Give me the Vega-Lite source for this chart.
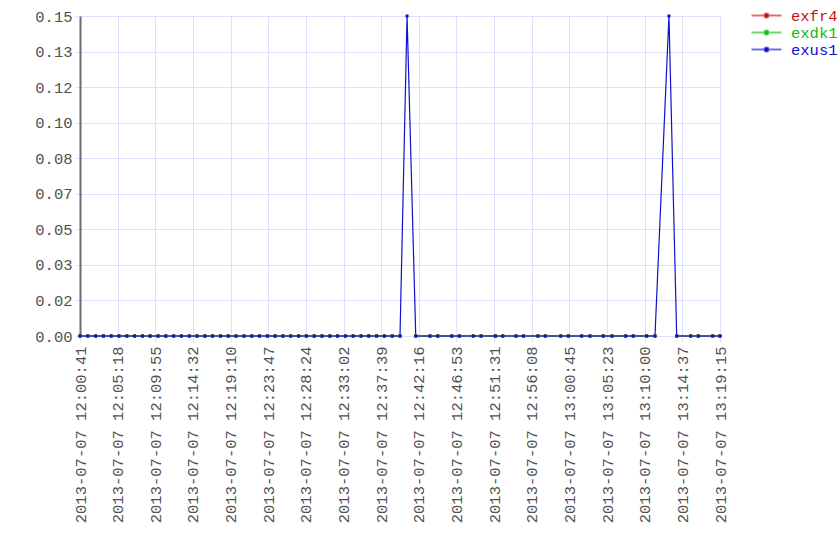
{
  "$schema": "https://vega.github.io/schema/vega-lite/v6.json",
  "width": 640,
  "height": 320,
  "autosize": "none",
  "padding": {"left": 80, "top": 16, "right": 120, "bottom": 224},
  "background": "white",
  "config": {
    "view": {"stroke": null},
    "font": "Liberation Mono",
    "axis": {"labelFont": "Liberation Mono", "labelFontSize": 15.5, "labelColor": "#505050", "gridColor": "#dedeff", "gridOpacity": 1, "tickColor": "#dedeff", "tickSize": 5, "title": null}
  },
  "data": {"values": [
    {"t":"2013-07-07T12:00:41","exfr4":0,"exdk1":0,"exus1":0},
    {"t":"2013-07-07T12:01:38","exfr4":0,"exdk1":0,"exus1":0},
    {"t":"2013-07-07T12:02:36","exfr4":0,"exdk1":0,"exus1":0},
    {"t":"2013-07-07T12:03:33","exfr4":0,"exdk1":0,"exus1":0},
    {"t":"2013-07-07T12:04:31","exfr4":0,"exdk1":0,"exus1":0},
    {"t":"2013-07-07T12:05:28","exfr4":0,"exdk1":0,"exus1":0},
    {"t":"2013-07-07T12:06:26","exfr4":0,"exdk1":0,"exus1":0},
    {"t":"2013-07-07T12:07:23","exfr4":0,"exdk1":0,"exus1":0},
    {"t":"2013-07-07T12:08:21","exfr4":0,"exdk1":0,"exus1":0},
    {"t":"2013-07-07T12:09:18","exfr4":0,"exdk1":0,"exus1":0},
    {"t":"2013-07-07T12:10:16","exfr4":0,"exdk1":0,"exus1":0},
    {"t":"2013-07-07T12:11:13","exfr4":0,"exdk1":0,"exus1":0},
    {"t":"2013-07-07T12:12:11","exfr4":0,"exdk1":0,"exus1":0},
    {"t":"2013-07-07T12:13:08","exfr4":0,"exdk1":0,"exus1":0},
    {"t":"2013-07-07T12:14:06","exfr4":0,"exdk1":0,"exus1":0},
    {"t":"2013-07-07T12:15:03","exfr4":0,"exdk1":0,"exus1":0},
    {"t":"2013-07-07T12:16:01","exfr4":0,"exdk1":0,"exus1":0},
    {"t":"2013-07-07T12:16:58","exfr4":0,"exdk1":0,"exus1":0},
    {"t":"2013-07-07T12:17:56","exfr4":0,"exdk1":0,"exus1":0},
    {"t":"2013-07-07T12:18:53","exfr4":0,"exdk1":0,"exus1":0},
    {"t":"2013-07-07T12:19:51","exfr4":0,"exdk1":0,"exus1":0},
    {"t":"2013-07-07T12:20:48","exfr4":0,"exdk1":0,"exus1":0},
    {"t":"2013-07-07T12:21:46","exfr4":0,"exdk1":0,"exus1":0},
    {"t":"2013-07-07T12:22:43","exfr4":0,"exdk1":0,"exus1":0},
    {"t":"2013-07-07T12:23:41","exfr4":0,"exdk1":0,"exus1":0},
    {"t":"2013-07-07T12:24:38","exfr4":0,"exdk1":0,"exus1":0},
    {"t":"2013-07-07T12:25:36","exfr4":0,"exdk1":0,"exus1":0},
    {"t":"2013-07-07T12:26:33","exfr4":0,"exdk1":0,"exus1":0},
    {"t":"2013-07-07T12:27:31","exfr4":0,"exdk1":0,"exus1":0},
    {"t":"2013-07-07T12:28:28","exfr4":0,"exdk1":0,"exus1":0},
    {"t":"2013-07-07T12:29:26","exfr4":0,"exdk1":0,"exus1":0},
    {"t":"2013-07-07T12:30:23","exfr4":0,"exdk1":0,"exus1":0},
    {"t":"2013-07-07T12:31:21","exfr4":0,"exdk1":0,"exus1":0},
    {"t":"2013-07-07T12:32:18","exfr4":0,"exdk1":0,"exus1":0},
    {"t":"2013-07-07T12:33:16","exfr4":0,"exdk1":0,"exus1":0},
    {"t":"2013-07-07T12:34:13","exfr4":0,"exdk1":0,"exus1":0},
    {"t":"2013-07-07T12:35:11","exfr4":0,"exdk1":0,"exus1":0},
    {"t":"2013-07-07T12:36:08","exfr4":0,"exdk1":0,"exus1":0},
    {"t":"2013-07-07T12:37:06","exfr4":0,"exdk1":0,"exus1":0},
    {"t":"2013-07-07T12:38:03","exfr4":0,"exdk1":0,"exus1":0},
    {"t":"2013-07-07T12:39:01","exfr4":0,"exdk1":0,"exus1":0},
    {"t":"2013-07-07T12:39:58","exfr4":0,"exdk1":0,"exus1":0},
    {"t":"2013-07-07T12:40:50","exfr4":null,"exdk1":null,"exus1":0.15},
    {"t":"2013-07-07T12:41:54","exfr4":0,"exdk1":0,"exus1":0},
    {"t":"2013-07-07T12:43:39","exfr4":0,"exdk1":0,"exus1":0},
    {"t":"2013-07-07T12:44:36","exfr4":0,"exdk1":0,"exus1":0},
    {"t":"2013-07-07T12:46:19","exfr4":0,"exdk1":0,"exus1":0},
    {"t":"2013-07-07T12:47:15","exfr4":0,"exdk1":0,"exus1":0},
    {"t":"2013-07-07T12:48:58","exfr4":0,"exdk1":0,"exus1":0},
    {"t":"2013-07-07T12:49:55","exfr4":0,"exdk1":0,"exus1":0},
    {"t":"2013-07-07T12:51:40","exfr4":0,"exdk1":0,"exus1":0},
    {"t":"2013-07-07T12:52:35","exfr4":0,"exdk1":0,"exus1":0},
    {"t":"2013-07-07T12:54:12","exfr4":0,"exdk1":0,"exus1":0},
    {"t":"2013-07-07T12:55:08","exfr4":0,"exdk1":0,"exus1":0},
    {"t":"2013-07-07T12:56:54","exfr4":0,"exdk1":0,"exus1":0},
    {"t":"2013-07-07T12:57:48","exfr4":0,"exdk1":0,"exus1":0},
    {"t":"2013-07-07T12:59:42","exfr4":0,"exdk1":0,"exus1":0},
    {"t":"2013-07-07T13:00:38","exfr4":0,"exdk1":0,"exus1":0},
    {"t":"2013-07-07T13:02:16","exfr4":0,"exdk1":0,"exus1":0},
    {"t":"2013-07-07T13:03:17","exfr4":0,"exdk1":0,"exus1":0},
    {"t":"2013-07-07T13:04:55","exfr4":0,"exdk1":0,"exus1":0},
    {"t":"2013-07-07T13:05:59","exfr4":0,"exdk1":0,"exus1":0},
    {"t":"2013-07-07T13:07:40","exfr4":0,"exdk1":0,"exus1":0},
    {"t":"2013-07-07T13:08:36","exfr4":0,"exdk1":0,"exus1":0},
    {"t":"2013-07-07T13:10:15","exfr4":0,"exdk1":0,"exus1":0},
    {"t":"2013-07-07T13:11:16","exfr4":0,"exdk1":0,"exus1":0},
    {"t":"2013-07-07T13:12:59","exfr4":null,"exdk1":null,"exus1":0.15},
    {"t":"2013-07-07T13:13:56","exfr4":0,"exdk1":0,"exus1":0},
    {"t":"2013-07-07T13:15:39","exfr4":0,"exdk1":0,"exus1":0},
    {"t":"2013-07-07T13:16:35","exfr4":0,"exdk1":0,"exus1":0},
    {"t":"2013-07-07T13:18:21","exfr4":0,"exdk1":0,"exus1":0},
    {"t":"2013-07-07T13:19:15","exfr4":0,"exdk1":0,"exus1":0}
  ]},
  "transform": [{"fold": ["exfr4", "exdk1", "exus1"], "as": ["series", "value"]}],
  "encoding": {
    "x": {"field": "t", "type": "temporal",
      "scale": {"nice": false},
      "axis": {"format": "%Y-%m-%d %H:%M:%S", "labelAngle": -90, "labelPadding": 4, "domain": false, "tickSize": 6,
        "values": [
          {"year":2013,"month":7,"date":7,"hours":12,"minutes":0,"seconds":41},
          {"year":2013,"month":7,"date":7,"hours":12,"minutes":5,"seconds":18},
          {"year":2013,"month":7,"date":7,"hours":12,"minutes":9,"seconds":55},
          {"year":2013,"month":7,"date":7,"hours":12,"minutes":14,"seconds":32},
          {"year":2013,"month":7,"date":7,"hours":12,"minutes":19,"seconds":10},
          {"year":2013,"month":7,"date":7,"hours":12,"minutes":23,"seconds":47},
          {"year":2013,"month":7,"date":7,"hours":12,"minutes":28,"seconds":24},
          {"year":2013,"month":7,"date":7,"hours":12,"minutes":33,"seconds":2},
          {"year":2013,"month":7,"date":7,"hours":12,"minutes":37,"seconds":39},
          {"year":2013,"month":7,"date":7,"hours":12,"minutes":42,"seconds":16},
          {"year":2013,"month":7,"date":7,"hours":12,"minutes":46,"seconds":53},
          {"year":2013,"month":7,"date":7,"hours":12,"minutes":51,"seconds":31},
          {"year":2013,"month":7,"date":7,"hours":12,"minutes":56,"seconds":8},
          {"year":2013,"month":7,"date":7,"hours":13,"minutes":0,"seconds":45},
          {"year":2013,"month":7,"date":7,"hours":13,"minutes":5,"seconds":23},
          {"year":2013,"month":7,"date":7,"hours":13,"minutes":10,"seconds":0},
          {"year":2013,"month":7,"date":7,"hours":13,"minutes":14,"seconds":37},
          {"year":2013,"month":7,"date":7,"hours":13,"minutes":19,"seconds":15}
        ]}},
    "y": {"field": "value", "type": "quantitative",
      "scale": {"domain": [0, 0.15], "nice": false, "zero": true},
      "axis": {"format": ".2f", "values": [0, 0.0166667, 0.0333333, 0.05, 0.0666667, 0.0833333, 0.1, 0.1166667, 0.1333333, 0.15],
        "domainColor": "#6a6a78", "domainWidth": 2, "labelPadding": 3}},
    "color": {"field": "series", "type": "nominal",
      "scale": {"domain": ["exfr4", "exdk1", "exus1"], "range": ["#cc1010", "#10bb10", "#1010cc"]},
      "legend": {"title": null, "orient": "none", "legendX": 678, "legendY": -9,
        "symbolType": "M-2,0H2M-0.28,0A0.28,0.28 0 1,0 0.28,0A0.28,0.28 0 1,0 -0.28,0Z",
        "symbolSize": 225, "symbolStrokeWidth": 2, "labelFontSize": 15.5, "labelFont": "Liberation Mono",
        "labelOffset": 16, "rowPadding": -1.5, "symbolOffset": 0,
        "encode": {
          "labels": {"update": {"fill": {"signal": "scale('color', datum.value)"}}},
          "symbols": {"update": {"fill": {"signal": "scale('color', datum.value)"}, "stroke": {"signal": "scale('color', datum.value)"}, "strokeOpacity": {"value": 0.6}, "fillOpacity": {"value": 1}}}
        }}}
  },
  "layer": [
    {"mark": {"type": "line", "strokeWidth": 1.2}},
    {"mark": {"type": "point", "filled": true, "shape": "square", "size": 9, "opacity": 1}}
  ]
}
